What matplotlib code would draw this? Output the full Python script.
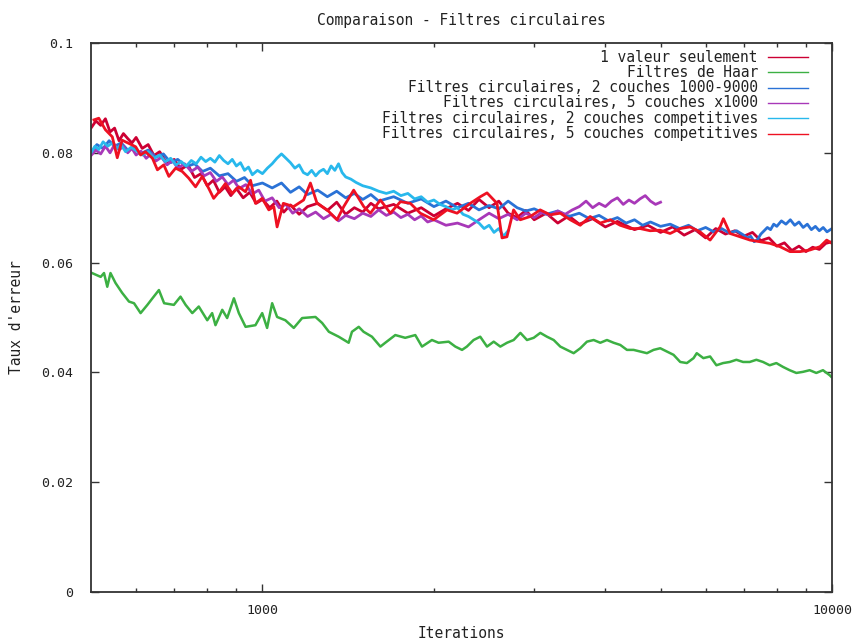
import matplotlib
matplotlib.use("Agg")
import matplotlib.pyplot as plt
from matplotlib.ticker import FixedLocator, FixedFormatter, NullFormatter

# ---------------- data ----------------
labels = ["1 valeur seulement",
          "Filtres de Haar",
          "Filtres circulaires, 2 couches 1000-9000",
          "Filtres circulaires, 5 couches x1000",
          "Filtres circulaires, 2 couches competitives",
          "Filtres circulaires, 5 couches competitives"]

crimson_x = [500, 510, 520, 530, 540, 550, 560, 570, 580, 590,
             600, 615, 630, 645, 660, 680, 700, 720, 740, 760,
             780, 800, 820, 840, 860, 880, 900, 925, 950, 975,
             1000, 1030, 1060, 1090, 1120, 1160, 1200, 1250, 1300, 1350,
             1400, 1450, 1500, 1550, 1600, 1700, 1800, 1900, 2000, 2100,
             2200, 2300, 2400, 2500, 2600, 2700, 2800, 2900, 3000, 3150,
             3300, 3450, 3600, 3800, 4000, 4200, 4500, 4750, 5000, 5250,
             5500, 5750, 6000, 6250, 6500, 6750, 7000, 7250, 7500, 7750,
             8000, 8250, 8500, 8750, 9000, 9250, 9500, 9750, 10000]
crimson_y = [0.0845, 0.0858, 0.0850, 0.0862, 0.0838, 0.0845, 0.0822, 0.0835, 0.0826, 0.0818,
             0.0828, 0.0808, 0.0815, 0.0795, 0.0802, 0.0780, 0.0788, 0.0770, 0.0778, 0.0755,
             0.0762, 0.0740, 0.0750, 0.0728, 0.0738, 0.0722, 0.0735, 0.0718, 0.0728, 0.0708,
             0.0715, 0.0700, 0.0712, 0.0692, 0.0705, 0.0688, 0.0702, 0.0708, 0.0695, 0.0710,
             0.0688, 0.0700, 0.0692, 0.0708, 0.0698, 0.0706, 0.0690, 0.0700, 0.0685, 0.0698,
             0.0708, 0.0695, 0.0715, 0.0700, 0.0712, 0.0690, 0.0682, 0.0695, 0.0678, 0.0690,
             0.0672, 0.0685, 0.0670, 0.0680, 0.0665, 0.0675, 0.0660, 0.0668, 0.0655, 0.0665,
             0.0650, 0.0660, 0.0645, 0.0662, 0.0652, 0.0658, 0.0648, 0.0655, 0.0640, 0.0645,
             0.0630, 0.0636, 0.0622, 0.0630, 0.0620, 0.0628, 0.0624, 0.0635, 0.0638]

green_x = [502, 520, 527, 534, 541, 552, 567, 583, 595, 611, 628, 641, 658, 672, 699, 718, 733,
           753, 773, 800, 816, 827, 850, 867, 891, 909, 934, 972, 999, 1019, 1040, 1061, 1097,
           1135, 1174, 1239, 1273, 1308, 1361, 1417, 1436, 1476, 1505, 1557, 1611, 1643, 1711,
           1781, 1855, 1906, 1984, 2038, 2123, 2181, 2241, 2285, 2348, 2412, 2479, 2547, 2616,
           2688, 2761, 2837, 2914, 2994, 3075, 3159, 3246, 3334, 3425, 3519, 3615, 3713, 3815,
           3919, 4026, 4136, 4249, 4365, 4484, 4606, 4732, 4861, 4994, 5130, 5270, 5414, 5562,
           5714, 5788, 5945, 6109, 6267, 6438, 6614, 6794, 6980, 7170, 7366, 7567, 7773, 7985,
           8203, 8427, 8657, 8893, 9136, 9385, 9641, 9904, 9970]
green_y = [0.0581, 0.0574, 0.0581, 0.0556, 0.0581, 0.0563, 0.0545, 0.0529, 0.0526, 0.0508,
           0.0523, 0.0535, 0.0550, 0.0526, 0.0523, 0.0538, 0.0523, 0.0508, 0.0520, 0.0495,
           0.0508, 0.0486, 0.0514, 0.0499, 0.0535, 0.0508, 0.0483, 0.0486, 0.0508, 0.0481,
           0.0526, 0.0501, 0.0495, 0.0481, 0.0499, 0.0501, 0.0490, 0.0474, 0.0465, 0.0454,
           0.0474, 0.0483, 0.0474, 0.0465, 0.0447, 0.0454, 0.0468, 0.0463, 0.0468, 0.0447,
           0.0459, 0.0454, 0.0456, 0.0447, 0.0441, 0.0447, 0.0459, 0.0465, 0.0447, 0.0456,
           0.0447, 0.0454, 0.0459, 0.0472, 0.0459, 0.0463, 0.0472, 0.0465, 0.0459, 0.0447,
           0.0441, 0.0435, 0.0444, 0.0456, 0.0459, 0.0454, 0.0459, 0.0454, 0.0450, 0.0441,
           0.0441, 0.0438, 0.0435, 0.0441, 0.0444, 0.0438, 0.0432, 0.0419, 0.0417, 0.0426,
           0.0435, 0.0426, 0.0429, 0.0413, 0.0417, 0.0419, 0.0423, 0.0419, 0.0419, 0.0423,
           0.0419, 0.0413, 0.0417, 0.0410, 0.0404, 0.0399, 0.0401, 0.0404, 0.0399, 0.0404,
           0.0395, 0.0392]

blue_x = [500, 512, 525, 538, 550, 565, 580, 595, 610, 630,
          650, 670, 690, 710, 735, 760, 785, 810, 840, 870,
          900, 930, 960, 1000, 1040, 1080, 1120, 1160, 1200, 1250,
          1300, 1350, 1400, 1450, 1500, 1550, 1600, 1700, 1800, 1900,
          2000, 2100, 2200, 2300, 2400, 2500, 2600, 2700, 2800, 2900,
          3000, 3150, 3300, 3450, 3600, 3750, 3900, 4050, 4200, 4350,
          4500, 4650, 4800, 5000, 5200, 5400, 5600, 5800, 6000, 6200,
          6400, 6600, 6800, 7000, 7100, 7200, 7300, 7400, 7500, 7600,
          7700, 7800, 7900, 8000, 8150, 8300, 8450, 8600, 8750, 8900,
          9050, 9200, 9350, 9500, 9650, 9800, 10000]
blue_y = [0.0800, 0.0815, 0.0808, 0.0822, 0.0812, 0.0818, 0.0805, 0.0810, 0.0798, 0.0805,
          0.0792, 0.0798, 0.0782, 0.0788, 0.0775, 0.0780, 0.0766, 0.0772, 0.0758, 0.0762,
          0.0748, 0.0755, 0.0740, 0.0745, 0.0736, 0.0745, 0.0728, 0.0738, 0.0724, 0.0732,
          0.0720, 0.0730, 0.0718, 0.0726, 0.0715, 0.0724, 0.0712, 0.0720, 0.0708, 0.0716,
          0.0702, 0.0712, 0.0700, 0.0708, 0.0696, 0.0704, 0.0698, 0.0712, 0.0700, 0.0694,
          0.0698, 0.0688, 0.0694, 0.0684, 0.0690, 0.0680, 0.0686, 0.0676, 0.0682, 0.0672,
          0.0678, 0.0668, 0.0674, 0.0666, 0.0670, 0.0662, 0.0668, 0.0658, 0.0664, 0.0656,
          0.0662, 0.0654, 0.0658, 0.0650, 0.0645, 0.0648, 0.0638, 0.0642, 0.0652, 0.0658,
          0.0664, 0.0660, 0.0670, 0.0666, 0.0676, 0.0670, 0.0678, 0.0668, 0.0674, 0.0664,
          0.0670, 0.0660, 0.0666, 0.0658, 0.0664, 0.0656, 0.0662]

purple_x = [500, 510, 520, 530, 540, 550, 560, 570, 580, 590,
            600, 612, 625, 638, 650, 665, 680, 695, 710, 730,
            750, 770, 790, 810, 830, 850, 870, 890, 910, 935,
            960, 985, 1010, 1040, 1070, 1100, 1130, 1160, 1200, 1240,
            1280, 1320, 1360, 1400, 1450, 1500, 1550, 1600, 1650, 1700,
            1750, 1800, 1850, 1900, 1950, 2000, 2100, 2200, 2300, 2400,
            2500, 2600, 2700, 2800, 2900, 3000, 3100, 3200, 3300, 3400,
            3500, 3600, 3700, 3800, 3900, 4000, 4100, 4200, 4300, 4400,
            4500, 4600, 4700, 4800, 4900, 5000]
purple_y = [0.0795, 0.0805, 0.0798, 0.0812, 0.0800, 0.0815, 0.0805, 0.0812, 0.0800, 0.0808,
            0.0796, 0.0803, 0.0790, 0.0798, 0.0785, 0.0792, 0.0778, 0.0786, 0.0772, 0.0780,
            0.0766, 0.0774, 0.0758, 0.0764, 0.0748, 0.0756, 0.0742, 0.0750, 0.0735, 0.0742,
            0.0725, 0.0732, 0.0712, 0.0718, 0.0700, 0.0706, 0.0690, 0.0698, 0.0684, 0.0692,
            0.0680, 0.0688, 0.0676, 0.0686, 0.0680, 0.0690, 0.0684, 0.0696, 0.0686, 0.0692,
            0.0682, 0.0688, 0.0678, 0.0685, 0.0674, 0.0678, 0.0668, 0.0672, 0.0665, 0.0678,
            0.0690, 0.0680, 0.0688, 0.0678, 0.0690, 0.0682, 0.0692, 0.0686, 0.0694, 0.0688,
            0.0696, 0.0702, 0.0712, 0.0700, 0.0708, 0.0702, 0.0712, 0.0718, 0.0706, 0.0714,
            0.0708, 0.0716, 0.0722, 0.0712, 0.0706, 0.0710]

cyan_x = [500, 508, 516, 525, 535, 545, 555, 565, 575, 588,
          600, 615, 630, 645, 660, 675, 690, 705, 720, 735,
          750, 765, 780, 795, 810, 825, 840, 855, 870, 885,
          900, 915, 930, 945, 960, 980, 1000, 1020, 1040, 1060,
          1080, 1100, 1120, 1140, 1160, 1180, 1200, 1220, 1240, 1260,
          1280, 1300, 1320, 1340, 1360, 1380, 1400, 1430, 1460, 1500,
          1550, 1600, 1650, 1700, 1750, 1800, 1850, 1900, 1950, 2000,
          2050, 2100, 2150, 2200, 2250, 2300, 2350, 2400, 2450, 2500,
          2550, 2600, 2650, 2700]
cyan_y = [0.0800, 0.0812, 0.0806, 0.0820, 0.0812, 0.0818, 0.0808, 0.0814, 0.0802, 0.0810,
          0.0804, 0.0796, 0.0802, 0.0790, 0.0796, 0.0784, 0.0790, 0.0778, 0.0784, 0.0776,
          0.0786, 0.0780, 0.0792, 0.0784, 0.0790, 0.0783, 0.0795, 0.0786, 0.0780, 0.0788,
          0.0776, 0.0782, 0.0768, 0.0774, 0.0760, 0.0768, 0.0762, 0.0772, 0.0780, 0.0790,
          0.0798, 0.0790, 0.0782, 0.0772, 0.0778, 0.0764, 0.0760, 0.0768, 0.0758, 0.0766,
          0.0770, 0.0762, 0.0776, 0.0768, 0.0780, 0.0764, 0.0756, 0.0752, 0.0746, 0.0740,
          0.0736, 0.0730, 0.0726, 0.0730, 0.0722, 0.0726, 0.0716, 0.0720, 0.0710, 0.0714,
          0.0706, 0.0702, 0.0696, 0.0700, 0.0688, 0.0684, 0.0678, 0.0672, 0.0662, 0.0668,
          0.0655, 0.0662, 0.0648, 0.0658]

red_x = [506, 516, 530, 545, 556, 567, 583, 599, 611, 623, 641, 654, 671, 685, 704, 723, 742,
         763, 784, 805, 821, 844, 861, 885, 909, 934, 953, 972, 999, 1026, 1047, 1061, 1088,
         1134, 1181, 1214, 1247, 1299, 1352, 1389, 1446, 1506, 1547, 1611, 1677, 1747, 1818,
         1893, 1998, 2109, 2196, 2317, 2413, 2479, 2581, 2634, 2687, 2760, 2836, 2953, 3074,
         3201, 3333, 3471, 3614, 3762, 3918, 4079, 4247, 4422, 4604, 4794, 4991, 5197, 5411,
         5634, 5866, 6109, 6360, 6446, 6623, 6896, 7180, 7475, 7784, 8105, 8439, 8787, 9149,
         9526, 9788, 10000]
red_y = [0.0860, 0.0863, 0.0842, 0.0829, 0.0791, 0.0823, 0.0817, 0.0811, 0.0796, 0.0802,
         0.0790, 0.0769, 0.0778, 0.0757, 0.0772, 0.0766, 0.0754, 0.0738, 0.0757, 0.0735,
         0.0717, 0.0732, 0.0744, 0.0726, 0.0738, 0.0729, 0.0750, 0.0708, 0.0717, 0.0696,
         0.0702, 0.0665, 0.0708, 0.0702, 0.0714, 0.0745, 0.0708, 0.0696, 0.0678, 0.0702,
         0.0732, 0.0702, 0.0690, 0.0714, 0.0690, 0.0711, 0.0708, 0.0690, 0.0678, 0.0696,
         0.0690, 0.0708, 0.0720, 0.0727, 0.0708, 0.0645, 0.0647, 0.0696, 0.0678, 0.0684,
         0.0696, 0.0687, 0.0690, 0.0678, 0.0668, 0.0684, 0.0672, 0.0678, 0.0668, 0.0662,
         0.0662, 0.0658, 0.0659, 0.0653, 0.0662, 0.0665, 0.0656, 0.0641, 0.0665, 0.0680,
         0.0653, 0.0647, 0.0641, 0.0638, 0.0635, 0.0629, 0.0620, 0.0620, 0.0623, 0.0629,
         0.0641, 0.0635]

colors = ["#cc0033", "#3cb043", "#2a72d6", "#a838b8", "#28b8ec", "#ee1122"]

x_ticks = [1000, 10000]
x_ticklabels = ["1000", "10000"]
x_minor = [600, 700, 800, 900, 2000, 3000, 4000, 5000, 6000, 7000, 8000, 9000]
y_ticks = [0, 0.02, 0.04, 0.06, 0.08, 0.1]
y_ticklabels = ["0", "0.02", "0.04", "0.06", "0.08", "0.1"]

# ---------------- plot ----------------
mono = "DejaVu Sans Mono"
plt.rcParams["font.family"] = mono
fig = plt.figure(figsize=(8.62, 6.41), dpi=100)
ax = fig.add_axes([91/862, 1-592/641, (832-91)/862, (592-43)/641])

series = [(crimson_x, crimson_y), (green_x, green_y), (blue_x, blue_y),
          (purple_x, purple_y), (cyan_x, cyan_y), (red_x, red_y)]
widths = [2.0, 1.8, 2.0, 2.0, 2.0, 2.0]
for (xs, ys), c, w in zip(series, colors, widths):
    ax.plot(xs, ys, color=c, lw=w)

ax.set_xscale("log")
ax.set_xlim(500, 10000)
ax.set_ylim(0, 0.1)
ax.xaxis.set_major_locator(FixedLocator(x_ticks))
ax.xaxis.set_major_formatter(FixedFormatter(x_ticklabels))
ax.xaxis.set_minor_locator(FixedLocator(x_minor))
ax.xaxis.set_minor_formatter(NullFormatter())
ax.yaxis.set_major_locator(FixedLocator(y_ticks))
ax.yaxis.set_major_formatter(FixedFormatter(y_ticklabels))
ax.tick_params(which="both", direction="in", top=True, right=True, labelsize=9.5,
               color="#333333", labelcolor="#222222")
ax.tick_params(axis="y", pad=13)
ax.tick_params(axis="x", pad=9)
ax.tick_params(which="major", length=6, width=1)
ax.tick_params(which="minor", length=3, width=1)
for s in ax.spines.values():
    s.set_linewidth(1.3)
    s.set_color("#333333")

ax.set_title("Comparaison - Filtres circulaires", fontsize=10.5, pad=13, color="#222222")
ax.set_xlabel("Iterations", fontsize=10.5, labelpad=6, color="#222222")
ax.set_ylabel("Taux d'erreur", fontsize=10.5, color="#222222")
ax.yaxis.set_label_coords(-(91 - 24) / (832 - 91), 0.5)

# gnuplot-style key: right-aligned text followed by line sample
key_text_x = (758 - 91) / (832 - 91)
key_l0 = (768 - 91) / (832 - 91)
key_l1 = (808 - 91) / (832 - 91)
for i, (lab, c) in enumerate(zip(labels, colors)):
    yy = 1 - (57 + 15.3 * i - 43) / (592 - 43)
    ax.text(key_text_x, yy, lab, transform=ax.transAxes, ha="right", va="center",
            fontsize=10.5, color="#222222")
    ax.plot([key_l0, key_l1], [yy, yy], transform=ax.transAxes, color=c, lw=1.0)

fig.savefig("out.png", dpi=100)
